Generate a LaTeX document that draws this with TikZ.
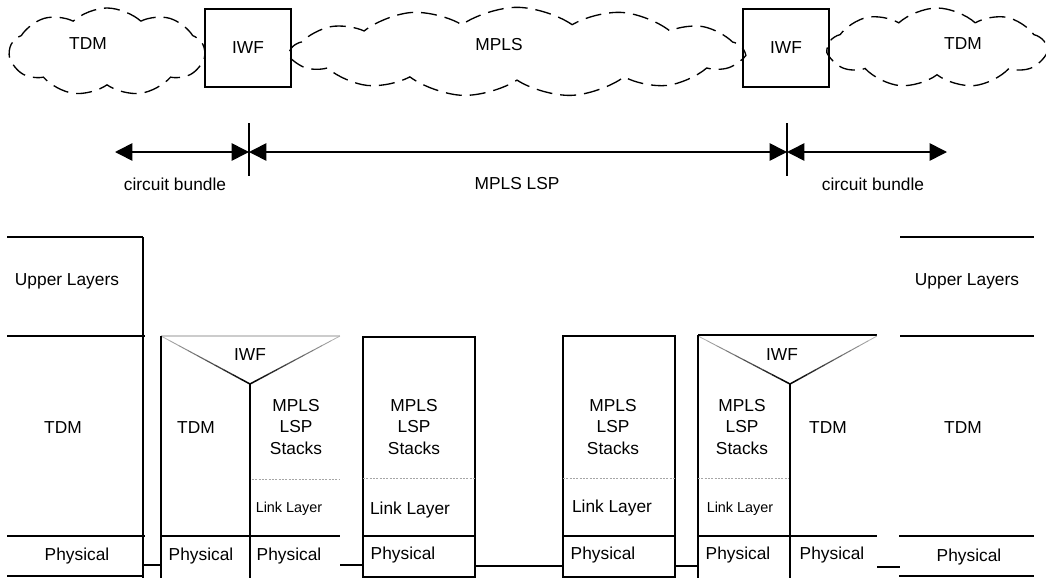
\documentclass[tikz,border=0pt]{standalone}
\usepackage{fontspec}
\setmainfont{Liberation Sans}
\usetikzlibrary{shapes.symbols,arrows.meta,calc}

\begin{document}
\begin{tikzpicture}[x=0.75pt,y=-0.75pt,line width=1pt,
  lbl/.style={font=\fontsize{13}{15}\selectfont,inner sep=0pt},
  sml/.style={font=\fontsize{10.8}{12}\selectfont,inner sep=0pt},
  stk/.style={align=center,font=\fontsize{13}{16}\selectfont,inner sep=0pt},
  cld/.style={cloud,draw,dash pattern=on 12pt off 6pt,cloud ignores aspect,inner sep=0pt},
  iwfbox/.style={draw,line width=1.5pt,minimum width=64.5pt,minimum height=58.5pt,inner sep=0pt,
    font=\fontsize{13}{15}\selectfont},
  span/.style={line width=1.2pt,{Triangle[length=13pt,width=13pt]}-{Triangle[length=13pt,width=13pt]}},
  heavy/.style={line width=2.2pt},
  dots/.style={gray!70,line width=0.5pt,dash pattern=on 1.5pt off 1pt},
  faint/.style={gray!40,line width=0.8pt}
]
\useasboundingbox (0,0) rectangle (1046,578);

% ---------- network view ----------
\node[cld,cloud puffs=9,cloud puff arc=85,minimum width=146pt,minimum height=66pt] (tdmL) at (107,52) {};
\node[lbl] (tdmLt) at (88,44) {TDM};
\node[iwfbox] (iwfL) at (248,48) {IWF};
\node[cld,cloud puffs=13,cloud puff arc=70,minimum width=339pt,minimum height=67pt] (mpls) at (517,52) {};
\node[lbl] (mplst) at (499,45) {MPLS};
\node[iwfbox] (iwfR) at (786,48) {IWF};
\node[cld,cloud puffs=9,cloud puff arc=85,minimum width=163pt,minimum height=60pt] (tdmR) at (937,48) {};
\node[lbl] (tdmRt) at (963,44) {TDM};

% ---------- spans ----------
\coordinate (a0) at (115,152);
\coordinate (t1) at (249,152);
\coordinate (t2) at (787,152);
\coordinate (a3) at (947,152);
\coordinate (t1top) at (249,123);
\coordinate (t1bot) at (249,176);
\coordinate (t2top) at (787,123);
\coordinate (t2bot) at (787,176);
\draw[line width=1.2pt] (t1top) -- (t1bot);
\draw[line width=1.2pt] (t2top) -- (t2bot);
\draw[span] (a0) -- (t1);
\draw[span] (t1) -- (t2);
\draw[span] (t2) -- (a3);
\node[lbl] (cbL) at (175,184) {circuit bundle};
\node[lbl] (lsp) at (517,184) {MPLS LSP};
\node[lbl] (cbR) at (873,184) {circuit bundle};

% ---------- protocol stacks ----------
% end system, left
\draw[heavy] (7,237) -- (143,237);
\draw (143,237) -- (143,578);
\draw (7,336) -- (145,336);
\draw (7,536) -- (145,536);
\draw (7,576) -- (143,576);
\node[lbl] (upL) at (67,281) {Upper Layers};
\node[lbl] (tdm1) at (63,428) {TDM};
\node[lbl] (ph1) at (77,556) {Physical};
\draw (143,565) -- (161,565);

% interworking function, left
\coordinate (vL1) at (161,336);
\coordinate (vM1) at (250,384);
\coordinate (vR1) at (340,336);
\draw[faint] (vL1) -- (vR1);
\foreach \i in {0,...,9}{
  \pgfmathsetmacro\shade{30+7.5*\i}
  \draw[black!\shade,line width=0.6pt+0.06pt*\i] ($(vL1)!\i/10!(vM1)$) -- ($(vL1)!\i/10+0.1!(vM1)$);
  \draw[black!\shade,line width=0.6pt+0.06pt*\i] ($(vR1)!\i/10!(vM1)$) -- ($(vR1)!\i/10+0.1!(vM1)$);
}
\draw (161,336) -- (161,578);
\draw (vM1) -- (250,578);
\draw[dots] (252,479) -- (340,479);
\draw (160,536) -- (340,536);
\node[lbl] (iwf1) at (250,355) {IWF};
\node[lbl] (tdm2) at (196,428) {TDM};
\node[stk] (st2) at (296,427) {MPLS\\LSP\\Stacks};
\node[sml] (ll2) at (289,509) {Link Layer};
\node[lbl] (ph2a) at (201,556) {Physical};
\node[lbl] (ph2b) at (289,556) {Physical};
\draw (340,565) -- (363,565);

% LSR 1
\draw (363,337) rectangle (475,577);
\draw[dots] (363,478) -- (475,478);
\draw (363,536) -- (475,536);
\node[stk] (st3) at (414,427) {MPLS\\LSP\\Stacks};
\node[lbl] (ll3) at (410,510) {Link Layer};
\node[lbl] (ph3) at (403,555) {Physical};
\draw (475,566) -- (563,566);

% LSR 2
\draw (563,336) rectangle (675,577);
\draw[line width=1.6pt] (563,336) -- (675,336);
\draw[dots] (563,478) -- (675,478);
\draw (563,536) -- (675,536);
\node[stk] (st4) at (613,427) {MPLS\\LSP\\Stacks};
\node[lbl] (ll4) at (612,508) {Link Layer};
\node[lbl] (ph4) at (603,555) {Physical};
\draw (675,566) -- (698,566);

% interworking function, right
\coordinate (vL5) at (698,336);
\coordinate (vM5) at (790,384);
\coordinate (vR5) at (877,336);
\draw (698,335) -- (877,335);
\foreach \i in {0,...,9}{
  \pgfmathsetmacro\shade{30+7.5*\i}
  \draw[black!\shade,line width=0.6pt+0.06pt*\i] ($(vL5)!\i/10!(vM5)$) -- ($(vL5)!\i/10+0.1!(vM5)$);
  \draw[black!\shade,line width=0.6pt+0.06pt*\i] ($(vR5)!\i/10!(vM5)$) -- ($(vR5)!\i/10+0.1!(vM5)$);
}
\draw (698,335) -- (698,578);
\draw (vM5) -- (790,578);
\draw[dots] (698,478) -- (789,478);
\draw (698,536) -- (877,536);
\node[lbl] (iwf5) at (782,355) {IWF};
\node[stk] (st5) at (742,427) {MPLS\\LSP\\Stacks};
\node[sml] (ll5) at (740,509) {Link Layer};
\node[lbl] (tdm5) at (828,428) {TDM};
\node[lbl] (ph5a) at (738,555) {Physical};
\node[lbl] (ph5b) at (832,555) {Physical};
\draw (877,567) -- (900,567);

% end system, right
\draw[heavy] (900,237) -- (1034,237);
\draw (900,336) -- (1034,336);
\draw (899,536) -- (1034,536);
\draw[heavy] (899,576) -- (1034,576);
\node[lbl] (upR) at (967,281) {Upper Layers};
\node[lbl] (tdm6) at (963,428) {TDM};
\node[lbl] (ph6) at (969,557) {Physical};
\end{tikzpicture}
\end{document}
